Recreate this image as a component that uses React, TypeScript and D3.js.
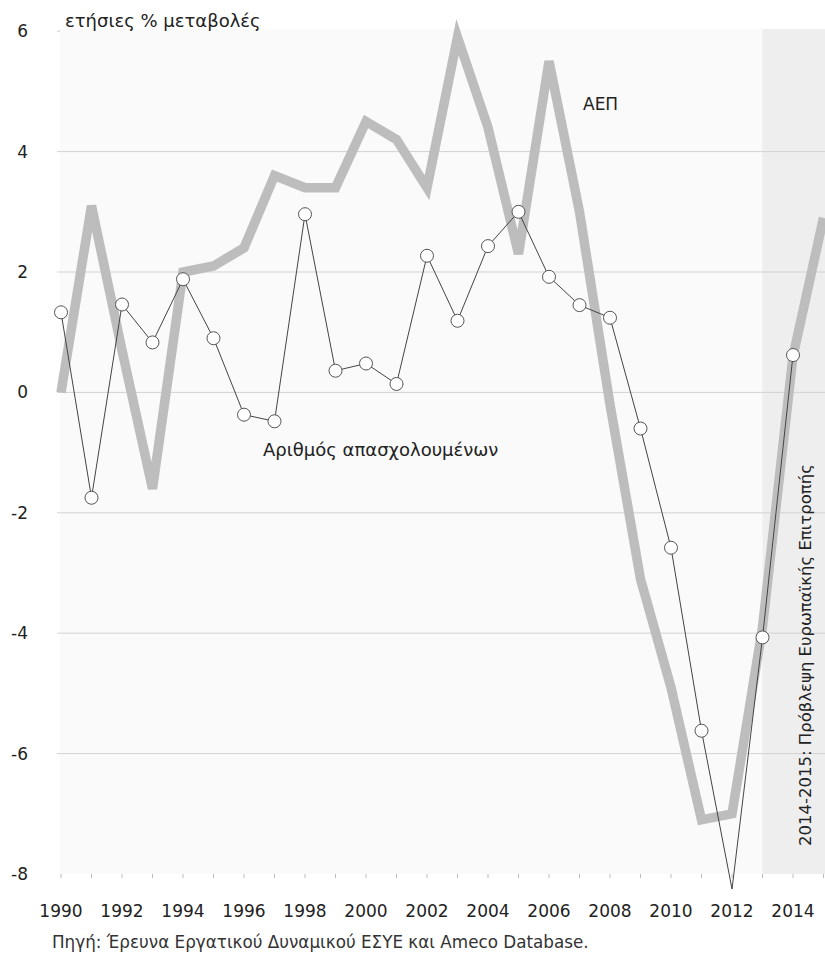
import React from "react";
import * as d3 from "d3";

const years = d3.range(1990, 2016);
const gdp = [0.0, 3.1, 0.7, -1.6, 2.0, 2.1, 2.4, 3.6, 3.4, 3.4, 4.5, 4.2, 3.4, 5.9, 4.4, 2.3, 5.5, 3.0, -0.2, -3.1, -4.9, -7.1, -7.0, -3.9, 0.6, 2.9];
const employment = [1.33, -1.75, 1.46, 0.83, 1.88, 0.9, -0.37, -0.48, 2.96, 0.36, 0.48, 0.14, 2.27, 1.19, 2.43, 3.0, 1.92, 1.45, 1.24, -0.6, -2.58, -5.62, -8.25, -4.07, 0.62];
const yTicks = [6, 4, 2, 0, -2, -4, -6, -8];
const xLabels = d3.range(1990, 2015, 2);
const forecastStart = 2013;
const noMarkerYears = [2012];

const FONT = "'DejaVu Sans', Verdana, sans-serif";

export default function App() {
  const W = 825, H = 956;
  const x = d3.scaleLinear().domain([1990, 2015]).range([61, 823.5]);
  const y = d3.scaleLinear().domain([6, -8]).range([31.2, 874]);

  const gdpLine = d3.line<number>().x((_, i) => x(years[i])).y((d) => y(d));
  const empLine = d3.line<number>().x((_, i) => x(years[i])).y((d) => y(d));

  return (
    <svg width={W} height={H} style={{ position: "absolute", left: 0, top: 0, background: "#fff" }} fontFamily={FONT}>
      <rect x={60} y={29} width={W - 60} height={y(-8) - 29} fill="#fafafa" />
      <rect x={x(forecastStart)} y={29} width={W - x(forecastStart)} height={y(-8) - 29} fill="#eeeeee" />
      {yTicks.filter((t) => t !== -8 && t !== 6).map((t) => (
        <line key={t} x1={57} x2={W} y1={y(t)} y2={y(t)} stroke="#d2d2d2" strokeWidth={1} />
      ))}
      <line x1={57} x2={60} y1={y(6)} y2={y(6)} stroke="#ccc" />
      {yTicks.map((t) => (
        <text key={t} x={28} y={y(t) + 6} textAnchor="end" fontSize={17} fill="#222">{t}</text>
      ))}
      {years.map((yr) => (
        <line key={yr} x1={x(yr)} x2={x(yr)} y1={y(-8)} y2={y(-8) + 4} stroke="#bbb" />
      ))}
      {xLabels.map((yr) => (
        <text key={yr} x={x(yr)} y={917} textAnchor="middle" fontSize={17} fill="#222">{yr}</text>
      ))}
      <path d={gdpLine(gdp) || ""} fill="none" stroke="#bdbdbd" strokeWidth={9.5} strokeLinejoin="miter" />
      <path d={empLine(employment) || ""} fill="none" stroke="#444" strokeWidth={1} />
      {employment.map((v, i) =>
        noMarkerYears.includes(years[i]) ? null : (
          <circle key={i} cx={x(years[i])} cy={y(v)} r={6.5} fill="#fff" stroke="#555" strokeWidth={1} />
        )
      )}
      <text x={65} y={27} fontSize={18} fill="#222">ετήσιες % μεταβολές</text>
      <text x={583} y={110} fontSize={17} fill="#222">ΑΕΠ</text>
      <text x={263} y={456} fontSize={18} fill="#222">Αριθμός απασχολουμένων</text>
      <text transform={`translate(811,655) rotate(-90)`} textAnchor="middle" fontSize={16.5} fill="#222">2014-2015: Πρόβλεψη Ευρωπαϊκής Επιτροπής</text>
      <text x={52} y={948} fontSize={16.8} fill="#333">Πηγή: Έρευνα Εργατικού Δυναμικού ΕΣΥΕ και Ameco Database.</text>
    </svg>
  );
}
